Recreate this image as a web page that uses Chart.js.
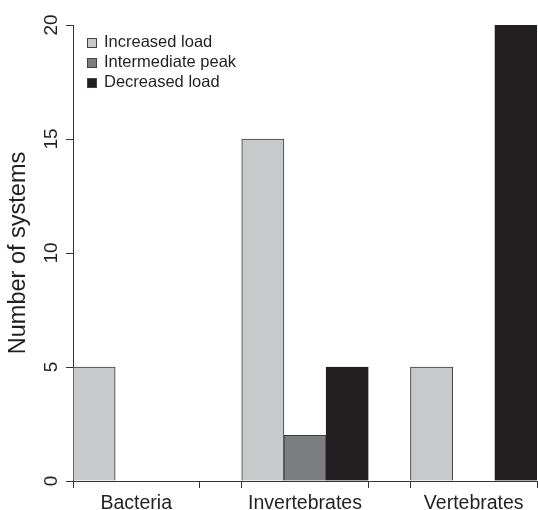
<!DOCTYPE html>
<html>
<head>
<meta charset="utf-8">
<script src="https://cdn.jsdelivr.net/npm/chart.js@4.4.1/dist/chart.umd.min.js"></script>
<style>
  body { margin: 0; background: #fff; }
  #wrap { position: relative; width: 538px; height: 510px; overflow: hidden; }
  #myChart { display: block; }
  #legend { position: absolute; left: 87px; top: 31px; font-family: "Liberation Sans", Arial, sans-serif; font-size: 16.5px; color: #231f20; }
  #legend .row { height: 20px; line-height: 20px; white-space: nowrap; }
  #legend .box { display: inline-block; width: 8px; height: 8px; border: 1px solid #444; margin-right: 7px; vertical-align: -1px; }
</style>
</head>
<body>
<div id="wrap">
  <canvas id="myChart" width="538" height="510"></canvas>
  <div id="legend"></div>
</div>
<script>
// data
const categories = ["Bacteria", "Invertebrates", "Vertebrates"];
const seriesNames = ["Increased load", "Intermediate peak", "Decreased load"];
const increasedLoad = [5, 15, 5];
const intermediatePeak = [0, 2, 0];
const decreasedLoad = [0, 5, 20];
const yTicks = [0, 5, 10, 15, 20];

const seriesValues = [increasedLoad, intermediatePeak, decreasedLoad];
const fills = ["#c8c9cb", "#7c7d81", "#231f20"];
const edges = ["#3c3c3c", "#3c3c3c", "#231f20"];

// each group: one slot per series plus one empty slot (R barplot style)
const slot = seriesNames.length + 1;
const groupCenters = categories.map((c, g) => g * slot + seriesNames.length / 2);
const groupEdges = [];
categories.forEach((c, g) => { groupEdges.push(g * slot, g * slot + seriesNames.length); });
const xTickValues = groupEdges.concat(groupCenters).sort((a, b) => a - b);
const xMax = (categories.length - 1) * slot + seriesNames.length;

const datasets = seriesNames.map((name, s) => ({
  label: name,
  data: seriesValues[s].map((v, g) => ({ x: g * slot + s + 0.5, y: v })),
  backgroundColor: fills[s],
  borderColor: edges[s],
  borderWidth: 1,
  borderSkipped: "start",
  grouped: false,
  barPercentage: 1,
  categoryPercentage: 1,
}));

const font = "'Liberation Sans', Arial, sans-serif";
const axisColor = "#333";

document.addEventListener("DOMContentLoaded", function () {
  const ctx = document.getElementById("myChart");
  const chart = new Chart(ctx, {
    type: "bar",
    data: { datasets: datasets },
    options: {
      responsive: false,
      animation: false,
      devicePixelRatio: 1,
      layout: { padding: { left: 0, top: 25, right: 1, bottom: 0 } },
      plugins: {
        legend: { display: false },
        tooltip: { enabled: false },
      },
      scales: {
        x: {
          type: "linear",
          min: 0,
          max: xMax,
          offset: false,
          afterBuildTicks: (scale) => {
            scale.ticks = xTickValues.map((v) => ({ value: v }));
          },
          afterFit: (scale) => {
            scale.height = 29;
            scale.paddingLeft = 0;
            scale.paddingRight = 0;
          },
          ticks: {
            autoSkip: false,
            maxRotation: 0,
            padding: 4,
            color: "#231f20",
            font: { family: font, size: 19.5 },
            callback: (v) => {
              const g = groupCenters.indexOf(v);
              return g >= 0 ? categories[g] : "";
            },
          },
          grid: {
            offset: false,
            drawOnChartArea: false,
            tickLength: 7,
            tickColor: (c) => (c.tick && groupCenters.indexOf(c.tick.value) >= 0 ? "rgba(0,0,0,0)" : axisColor),
          },
          border: { color: axisColor, width: 1 },
        },
        y: {
          min: 0,
          max: 20,
          afterBuildTicks: (scale) => {
            scale.ticks = yTicks.map((v) => ({ value: v }));
          },
          afterFit: (scale) => { scale.width = 73; },
          ticks: {
            minRotation: 90,
            maxRotation: 90,
            crossAlign: "center",
            padding: 4,
            color: "#231f20",
            font: { family: font, size: 19 },
          },
          grid: {
            drawOnChartArea: false,
            tickLength: 7,
            tickColor: axisColor,
          },
          border: { color: axisColor, width: 1 },
          title: {
            display: true,
            text: "Number of systems",
            color: "#231f20",
            padding: { top: 4, bottom: 0 },
            font: { family: font, size: 23.5 },
          },
        },
      },
    },
  });

  // legend drawn from the chart's own datasets
  const legend = document.getElementById("legend");
  chart.data.datasets.forEach((ds) => {
    const row = document.createElement("div");
    row.className = "row";
    const box = document.createElement("span");
    box.className = "box";
    box.style.background = ds.backgroundColor;
    row.appendChild(box);
    row.appendChild(document.createTextNode(ds.label));
    legend.appendChild(row);
  });
});
</script>
</body>
</html>
